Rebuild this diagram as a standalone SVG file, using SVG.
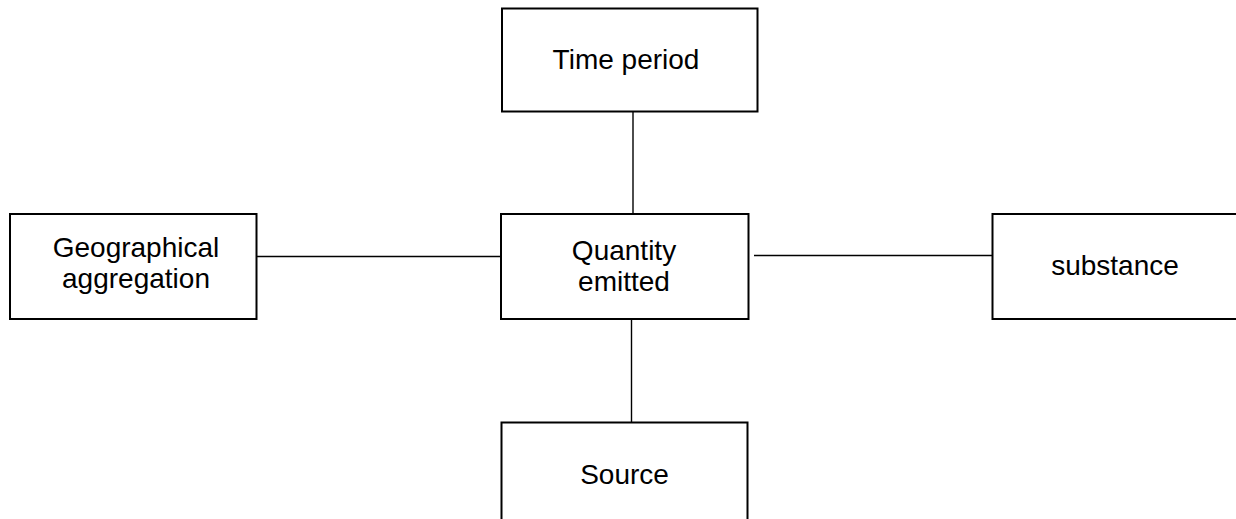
<svg xmlns="http://www.w3.org/2000/svg" width="1236" height="519" viewBox="0 0 1236 519">
<style>
.box{fill:#fff;stroke:#000;stroke-width:2}
.conn{stroke:#000;stroke-width:1.4;fill:none}
text{font-family:"Liberation Sans",Arial,sans-serif;font-size:28px;fill:#000;text-anchor:middle}
</style>
<rect width="1236" height="519" fill="#fff"/>
<g id="connectors">
<line class="conn" x1="633" y1="112" x2="633" y2="214"/>
<line class="conn" x1="257" y1="256.5" x2="500" y2="256.5"/>
<line class="conn" x1="754" y1="255.5" x2="993" y2="255.5"/>
<line class="conn" x1="631.5" y1="319" x2="631.5" y2="422"/>
</g>
<g id="time-period">
<rect class="box" x="502" y="8.5" width="255.5" height="103"/>
<text x="626" y="69">Time period</text>
</g>
<g id="geographical-aggregation">
<rect class="box" x="10" y="214" width="246.5" height="105"/>
<text x="136" y="256.5">Geographical</text>
<text x="136" y="288">aggregation</text>
</g>
<g id="quantity-emitted">
<rect class="box" x="501" y="214" width="247.5" height="105"/>
<text x="624" y="259.5">Quantity</text>
<text x="624" y="290.5">emitted</text>
</g>
<g id="substance">
<path class="box" d="M1240,214 H992.5 V319 H1240"/>
<text x="1115" y="275">substance</text>
</g>
<g id="source">
<path class="box" d="M501.5,525 V422.5 H747.5 V525"/>
<text x="624.5" y="483.5">Source</text>
</g>
</svg>
